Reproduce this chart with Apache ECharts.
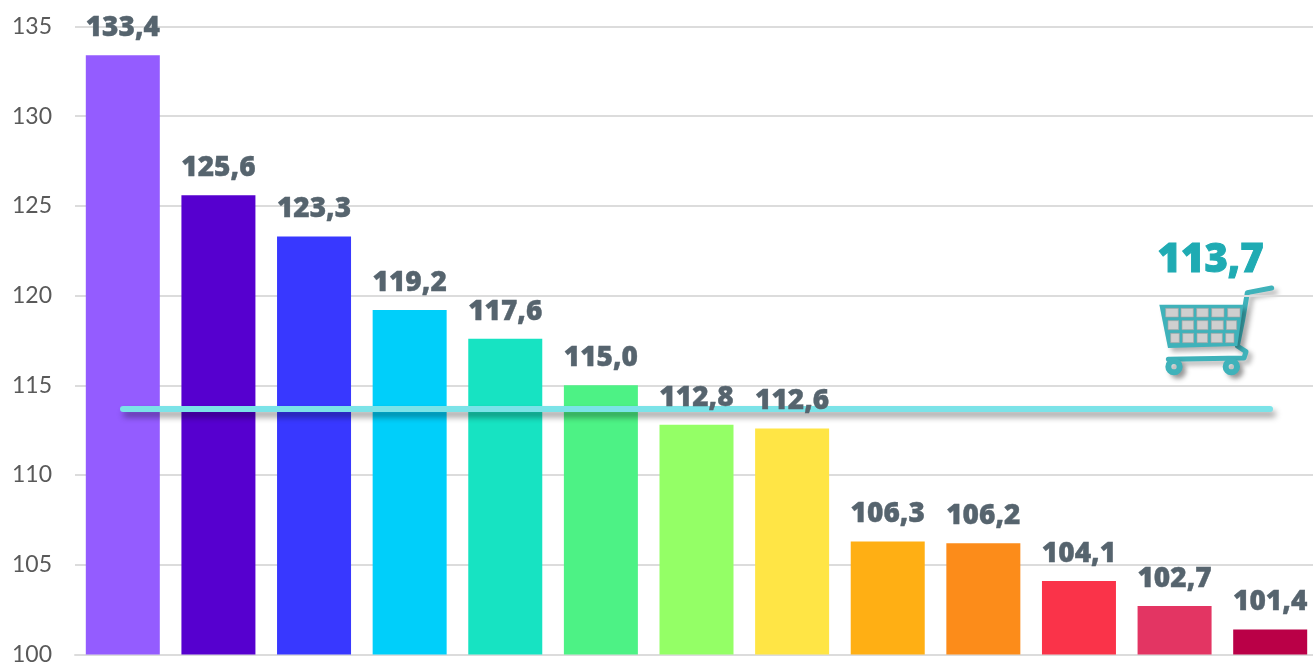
<!DOCTYPE html>
<html>
<head>
<meta charset="utf-8">
<style>
  html, body { margin: 0; padding: 0; background: #fff; overflow: hidden; }
  #chart { width: 1313px; height: 663px; }
</style>
<script src="https://cdn.jsdelivr.net/npm/echarts@6/dist/echarts.min.js"></script>
</head>
<body>
<div id="chart"></div>
<script>
const categories = ['1', '2', '3', '4', '5', '6', '7', '8', '9', '10', '11', '12', '13'];
const values = [133.4, 125.6, 123.3, 119.2, 117.6, 115.0, 112.8, 112.6, 106.3, 106.2, 104.1, 102.7, 101.4];
const barColors = ['#945cff', '#5600cf', '#3838ff', '#00cffa', '#17e3c2', '#4df285', '#94ff66', '#ffe545', '#ffaf14', '#fc8c1a', '#fa3349', '#e33563', '#ba0047'];
const average = 113.7;

const commaNum = v => v.toFixed(1).replace('.', ',');
const teal = '#3fb2ba';

const myChart = echarts.init(document.getElementById('chart'));

// shopping cart next to the average, drawn in a 3x space
const cartShadow = { shadowBlur: 5, shadowOffsetX: 4, shadowOffsetY: 4, shadowColor: 'rgba(0,0,0,0.3)' };
const cells = [];
const rows = [
  [[197, 265, 235, 291], [243, 265, 280, 291], [290, 265, 325, 291], [335, 265, 372, 291], [383, 265, 420, 291]],
  [[204, 302, 236, 329], [246, 302, 281, 329], [291, 302, 324, 329], [334, 302, 370, 329], [379, 302, 410, 329]],
  [[212, 340, 238, 368], [248, 340, 281, 368], [291, 340, 323, 368], [333, 340, 367, 368], [377, 340, 402, 368]]
];
rows.forEach(r => r.forEach(c => {
  cells.push({
    type: 'rect',
    shape: { x: c[0], y: c[1], width: c[2] - c[0], height: c[3] - c[1] },
    style: { fill: '#cfcfcf', stroke: '#a5a5a5', lineWidth: 2 }
  });
}));

myChart.setOption({
  animation: false,
  grid: { left: 75, top: 26.5, width: 1243, height: 628, containLabel: false, outerBoundsMode: 'none' },
  xAxis: {
    type: 'category',
    data: categories,
    axisTick: { show: false },
    axisLabel: { show: false },
    axisLine: { show: true, lineStyle: { color: '#dcdcdc', width: 2 } }
  },
  yAxis: {
    type: 'value',
    min: 100,
    max: 135,
    interval: 5,
    axisLine: { show: false },
    axisTick: { show: false },
    axisLabel: {
      margin: 23,
      fontFamily: 'Lato',
      fontSize: 23,
      color: '#595959'
    },
    splitLine: { lineStyle: { color: '#dcdcdc', width: 2 } }
  },
  series: [
    {
      type: 'bar',
      barWidth: 74,
      barGap: '-100%',
      data: values.map((v, i) => ({ value: v, itemStyle: { color: barColors[i] } })),
      markLine: {
        silent: true,
        z: 3,
        symbol: 'none',
        label: { show: false },
        lineStyle: {
          type: 'solid',
          color: '#7be3e8',
          width: 6,
          cap: 'round',
          shadowBlur: 6,
          shadowOffsetX: 3,
          shadowOffsetY: 5,
          shadowColor: 'rgba(0,0,0,0.4)'
        },
        data: [[{ x: 123, yAxis: average }, { x: 1270, yAxis: average }]]
      }
    },
    // same values again, only so the labels sit above the average line
    {
      type: 'bar',
      barWidth: 74,
      barGap: '-100%',
      z: 6,
      itemStyle: { color: 'transparent' },
      data: values,
      label: {
        show: true,
        position: 'top',
        distance: 13,
        fontFamily: 'Open Sans',
        fontWeight: 800,
        fontSize: 28,
        color: '#56646e',
        textBorderColor: '#56646e',
        textBorderWidth: 0.4,
        formatter: p => commaNum(p.value)
      }
    }
  ],
  graphic: [
    {
      type: 'text',
      left: 1157,
      top: 240,
      style: {
        text: commaNum(average),
        fontFamily: 'Open Sans',
        fontWeight: 800,
        fontSize: 40,
        fill: '#1fabb3',
        stroke: '#1fabb3',
        lineWidth: 1
      }
    },
    {
      type: 'group',
      x: 1100,
      y: 220,
      scaleX: 1 / 3,
      scaleY: 1 / 3,
      children: [
        {
          type: 'polyline',
          shape: { points: [[515, 204], [442, 218], [428, 300], [412, 378], [438, 395], [432, 414], [205, 418]] },
          style: Object.assign({ fill: 'none', stroke: teal, lineWidth: 15, lineCap: 'round', lineJoin: 'round' }, cartShadow)
        },
        {
          type: 'polygon',
          shape: { points: [[178, 254], [430, 254], [412, 378], [204, 384]] },
          style: Object.assign({ fill: teal }, cartShadow)
        },
        { type: 'group', children: cells },
        {
          type: 'circle',
          shape: { cx: 222, cy: 440, r: 17 },
          style: Object.assign({ fill: '#fff', stroke: teal, lineWidth: 18 }, cartShadow)
        },
        {
          type: 'circle',
          shape: { cx: 394, cy: 440, r: 17 },
          style: Object.assign({ fill: '#fff', stroke: teal, lineWidth: 18 }, cartShadow)
        }
      ]
    }
  ]
});
</script>
</body>
</html>
